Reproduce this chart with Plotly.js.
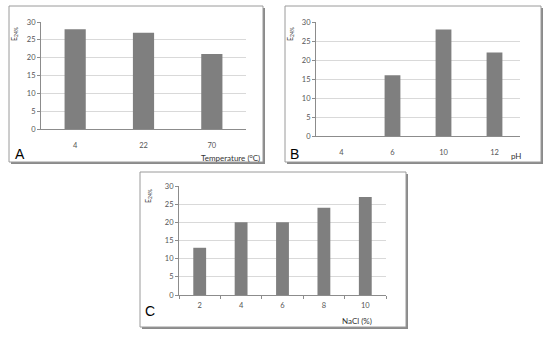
<!DOCTYPE html>
<html><head><meta charset="utf-8">
<script src="https://cdn.plot.ly/plotly-3.0.1.min.js"></script>
<style>html,body{margin:0;padding:0;background:#fff}#c{width:550px;height:337px}</style>
</head><body><div id="c"></div>
<script>
var tempCats = ['4', '22', '70'];
var tempVals = [28, 27, 21];
var phCats = ['4', '6', '10', '12'];
var phVals = [0, 16, 28, 22];
var naclCats = ['2', '4', '6', '8', '10'];
var naclVals = [13, 20, 20, 24, 27];
var yTicks = [0, 5, 10, 15, 20, 25, 30];

var W = 550, H = 337;
function px(x){return x / W;}
function py(y){return 1 - y / H;}

var barColor = '#7f7f7f';
var font = 'Lato, "Open Sans", sans-serif';
var tickFont = {family: font, size: 7.5, color: '#555555'};

function bar(x, y, xa, ya){
  return {type:'bar', x:x, y:y, xaxis:xa, yaxis:ya, marker:{color:barColor, line:{width:0}}, hoverinfo:'none'};
}
var data = [
  bar(tempCats, tempVals, 'x', 'y'),
  bar(phCats, phVals, 'x2', 'y2'),
  bar(naclCats, naclVals, 'x3', 'y3')
];

function xax(d0, d1, anchor, standoff, boundaryTicks){
  var o = {domain:[px(d0), px(d1)], anchor:anchor, type:'category', showgrid:false, zeroline:false,
    showline:true, linecolor:'#8c8c8c', linewidth:1, tickfont:tickFont, fixedrange:true,
    ticklabelstandoff: standoff};
  if (boundaryTicks){ o.ticks='outside'; o.ticklen=3; o.tickcolor='#8c8c8c'; o.tickson='boundaries'; }
  else { o.ticks=''; }
  return o;
}
function yax(top, bottom, anchor){
  return {domain:[py(bottom), py(top)], anchor:anchor, range:[0,30], tickvals:yTicks, ticktext:yTicks.map(String),
    showgrid:true, gridcolor:'#d9d9d9', gridwidth:1, zeroline:false, showline:true, linecolor:'#8c8c8c',
    ticks:'outside', ticklen:3, tickcolor:'#8c8c8c', tickfont:tickFont, fixedrange:true};
}

var layout = {
  width:W, height:H, margin:{l:0,r:0,t:0,b:0}, showlegend:false,
  paper_bgcolor:'#ffffff', plot_bgcolor:'rgba(0,0,0,0)', bargap:0.69,
  xaxis: xax(41, 246, 'y', 9, false),
  yaxis: yax(22, 129, 'x'),
  xaxis2: xax(316, 520, 'y2', 9, false),
  yaxis2: yax(22, 136, 'x2'),
  xaxis3: xax(179, 386, 'y3', 3, true),
  yaxis3: yax(186, 295, 'x3'),
  shapes: [],
  annotations: []
};

function box(x0, y0, x1, y1){
  layout.shapes.push({type:'rect', xref:'paper', yref:'paper', x0:px(x0+2), x1:px(x1+2), y0:py(y1+2), y1:py(y0+2),
    fillcolor:'#8a8a8a', line:{width:0}, layer:'below'});
  layout.shapes.push({type:'rect', xref:'paper', yref:'paper', x0:px(x0), x1:px(x1), y0:py(y1), y1:py(y0),
    fillcolor:'#ffffff', line:{color:'#9a9a9a', width:1}, layer:'below'});
}
box(9, 6, 263, 162);
box(285, 6, 541, 162);
box(140, 172, 406, 327);

function ann(text, x, y, size, xanchor, angle){
  layout.annotations.push({text:text, xref:'paper', yref:'paper', x:px(x), y:py(y), showarrow:false,
    xanchor:xanchor||'center', yanchor:'middle', textangle:angle||0,
    font:{family: size > 10 ? 'Liberation Sans, Arial, sans-serif' : font, size:size, color: size > 10 ? '#000' : '#333'}});
}
ann('E<sub>24%</sub>', 14, 34, 7, 'center', -90);
ann('E<sub>24%</sub>', 290, 34, 7, 'center', -90);
ann('E<sub>24%</sub>', 148, 196, 7, 'center', -90);
ann('A', 13, 154, 14, 'left');
ann('B', 288, 154, 14, 'left');
ann('C', 143, 311, 14, 'left');
ann('Temperature (<sup>o</sup>C)', 262, 157, 8, 'right');
ann('pH', 523, 156, 8, 'right');
ann('NaCl (%)', 374, 321, 8, 'right');

Plotly.newPlot('c', data, layout, {staticPlot:true, displayModeBar:false});
</script></body></html>
